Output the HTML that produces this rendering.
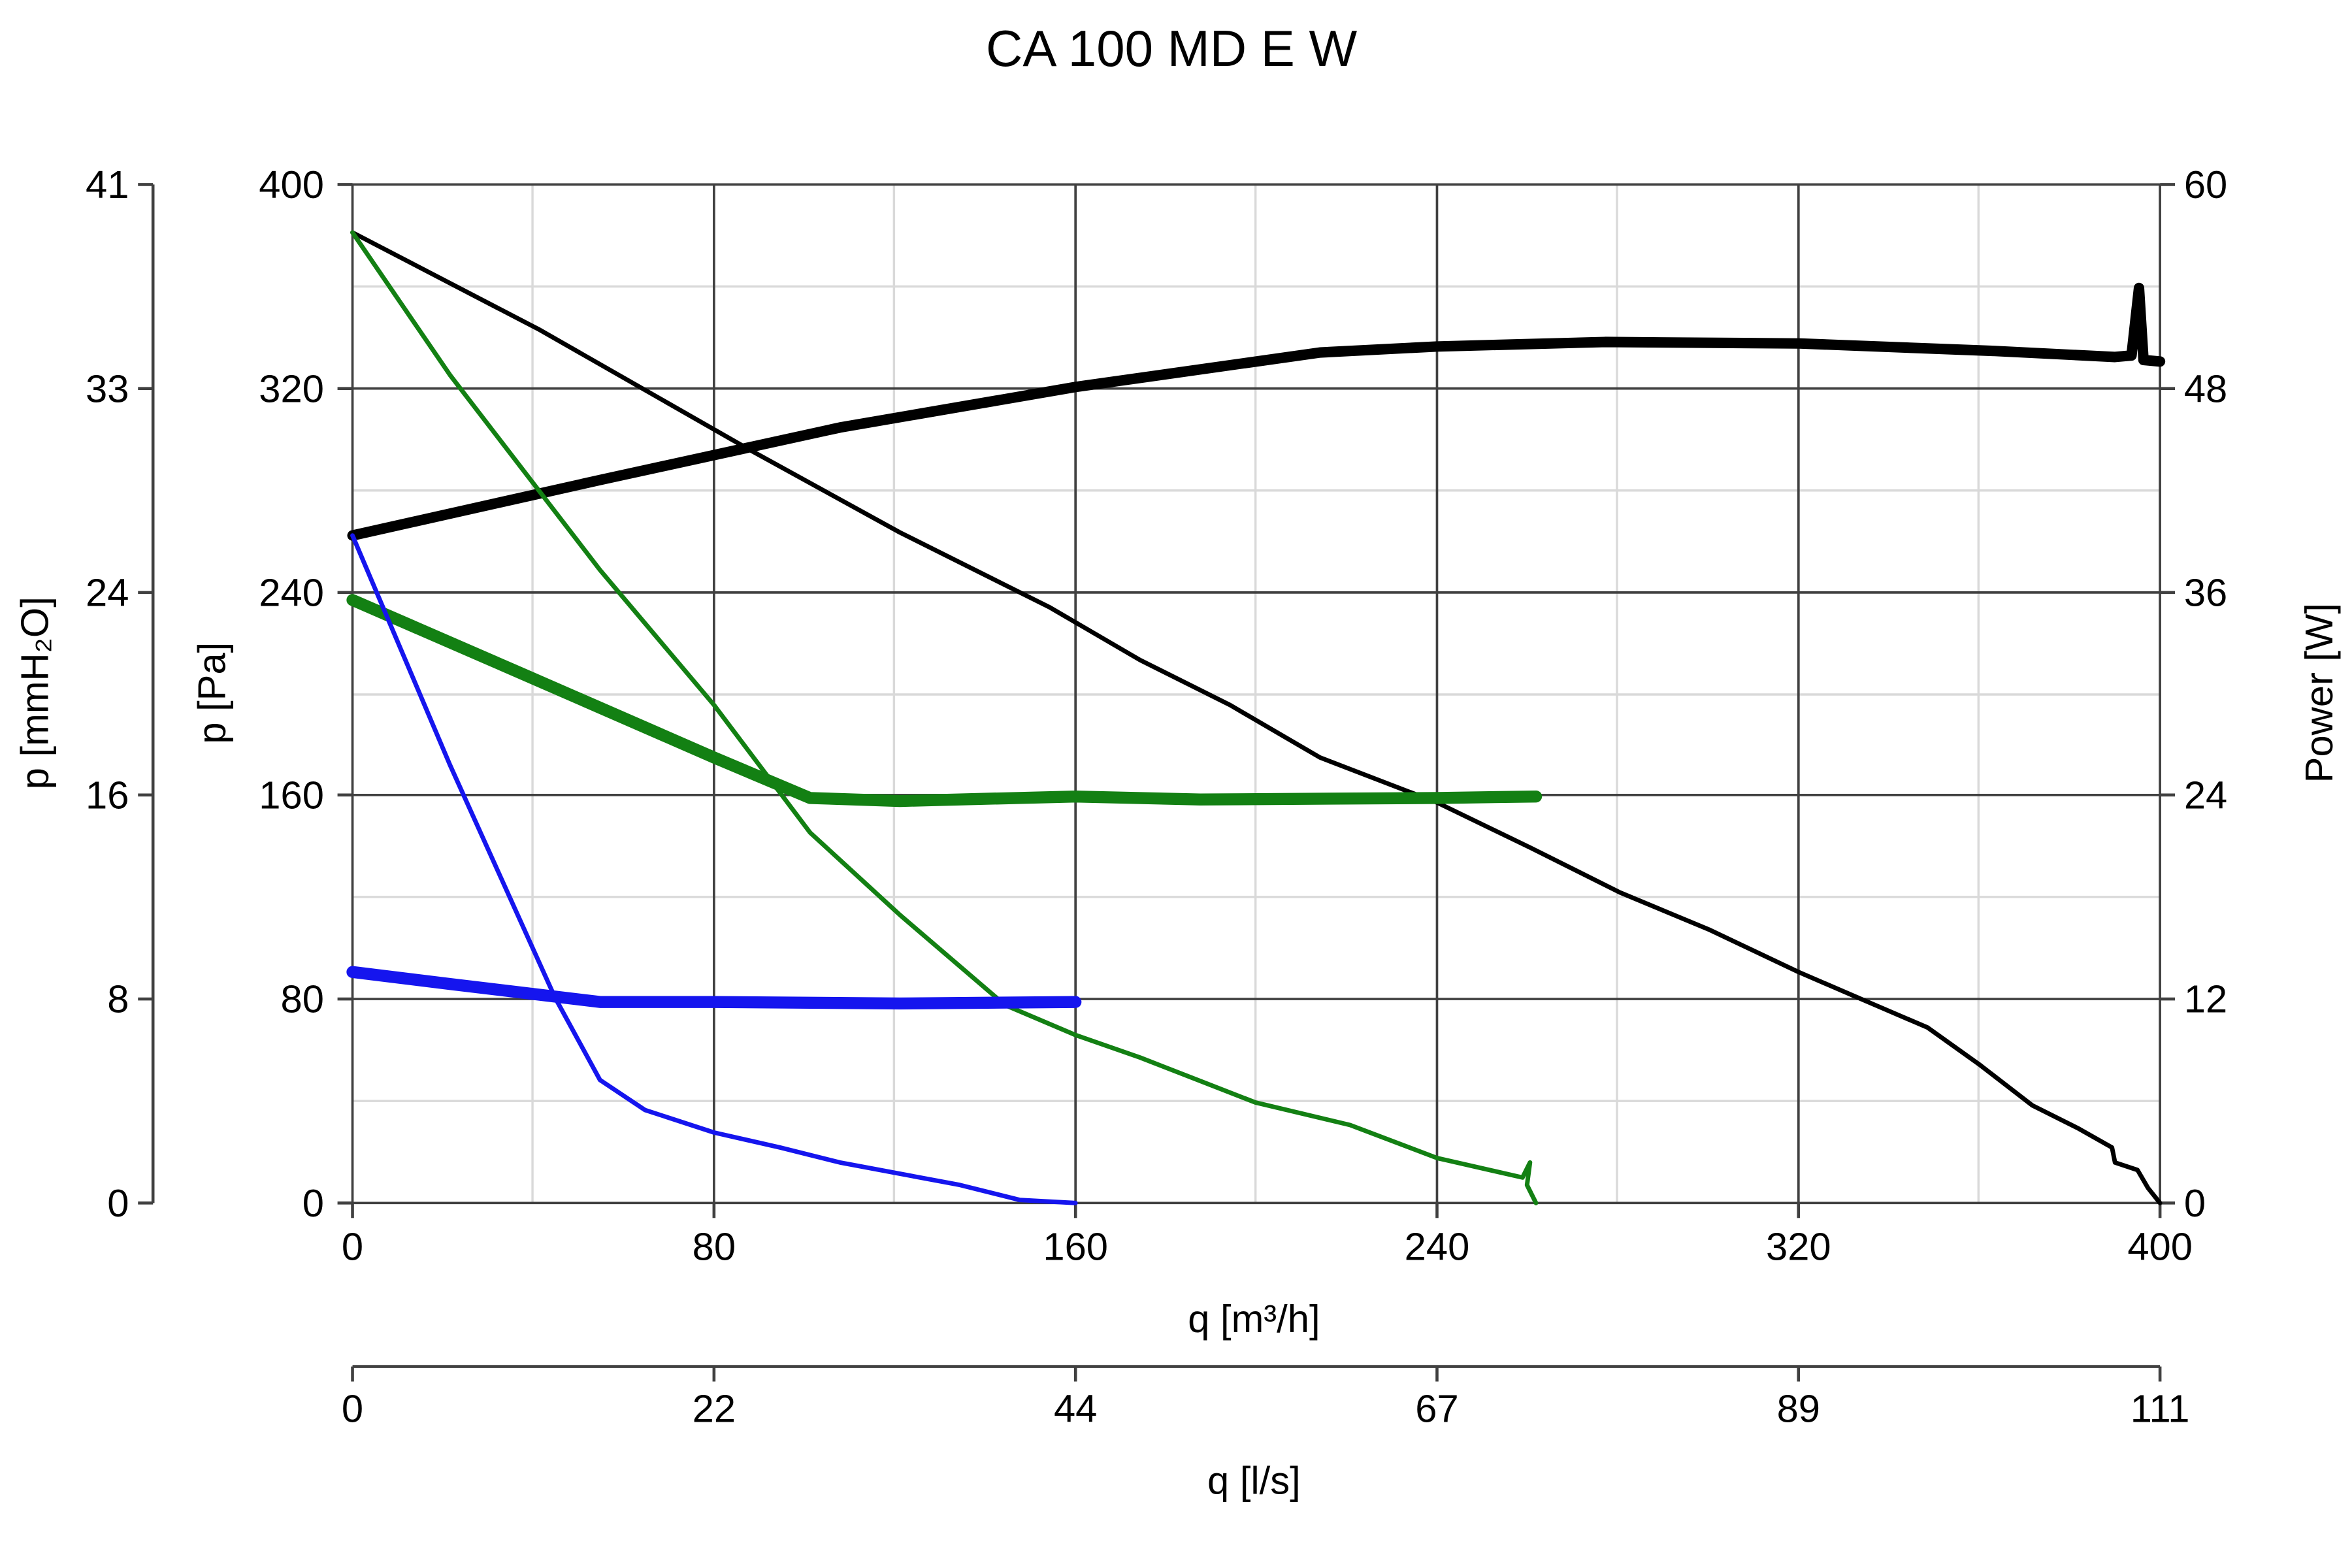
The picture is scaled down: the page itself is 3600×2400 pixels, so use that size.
<!DOCTYPE html>
<html><head><meta charset="utf-8"><style>
html,body{margin:0;padding:0;background:#fff;}
svg{display:block;}
text{font-family:"Liberation Sans",Arial,sans-serif;fill:#000;}
</style></head><body>
<svg width="3600" height="2400" viewBox="0 0 1568 1045.33" preserveAspectRatio="none" xmlns="http://www.w3.org/2000/svg">
<rect width="1568" height="1046" fill="#fff"/>
<!-- minor grid -->
<g stroke="#d9d9d9" stroke-width="1.5">
<line x1="355" y1="123" x2="355" y2="802"/><line x1="596" y1="123" x2="596" y2="802"/><line x1="837" y1="123" x2="837" y2="802"/><line x1="1078" y1="123" x2="1078" y2="802"/><line x1="1319" y1="123" x2="1319" y2="802"/>
<line x1="235" y1="191" x2="1440" y2="191"/><line x1="235" y1="327" x2="1440" y2="327"/><line x1="235" y1="463" x2="1440" y2="463"/><line x1="235" y1="598" x2="1440" y2="598"/><line x1="235" y1="734" x2="1440" y2="734"/>
</g>
<!-- major grid -->
<g stroke="#404040" stroke-width="1.6">
<line x1="476" y1="123" x2="476" y2="802"/><line x1="717" y1="123" x2="717" y2="802"/><line x1="958" y1="123" x2="958" y2="802"/><line x1="1199" y1="123" x2="1199" y2="802"/>
<line x1="235" y1="123" x2="1440" y2="123"/><line x1="235" y1="259" x2="1440" y2="259"/><line x1="235" y1="395" x2="1440" y2="395"/><line x1="235" y1="530" x2="1440" y2="530"/><line x1="235" y1="666" x2="1440" y2="666"/>
<line x1="235" y1="123" x2="235" y2="802"/><line x1="1440" y1="123" x2="1440" y2="802"/><line x1="235" y1="802" x2="1440" y2="802"/>
</g>
<!-- axis ticks -->
<g stroke="#404040" stroke-width="2">
<line x1="225" y1="123" x2="235" y2="123"/><line x1="225" y1="259" x2="235" y2="259"/><line x1="225" y1="395" x2="235" y2="395"/><line x1="225" y1="530" x2="235" y2="530"/><line x1="225" y1="666" x2="235" y2="666"/><line x1="225" y1="802" x2="235" y2="802"/>
<line x1="1440" y1="123" x2="1450" y2="123"/><line x1="1440" y1="259" x2="1450" y2="259"/><line x1="1440" y1="395" x2="1450" y2="395"/><line x1="1440" y1="530" x2="1450" y2="530"/><line x1="1440" y1="666" x2="1450" y2="666"/><line x1="1440" y1="802" x2="1450" y2="802"/>
<line x1="235" y1="802" x2="235" y2="812"/><line x1="476" y1="802" x2="476" y2="812"/><line x1="717" y1="802" x2="717" y2="812"/><line x1="958" y1="802" x2="958" y2="812"/><line x1="1199" y1="802" x2="1199" y2="812"/><line x1="1440" y1="802" x2="1440" y2="812"/>
<!-- left mm axis -->
<line x1="102" y1="123" x2="102" y2="802"/>
<line x1="92" y1="123" x2="102" y2="123"/><line x1="92" y1="259" x2="102" y2="259"/><line x1="92" y1="395" x2="102" y2="395"/><line x1="92" y1="530" x2="102" y2="530"/><line x1="92" y1="666" x2="102" y2="666"/><line x1="92" y1="802" x2="102" y2="802"/>
<!-- bottom l/s axis -->
<line x1="235" y1="911" x2="1440" y2="911"/>
<line x1="235" y1="911" x2="235" y2="921"/><line x1="476" y1="911" x2="476" y2="921"/><line x1="717" y1="911" x2="717" y2="921"/><line x1="958" y1="911" x2="958" y2="921"/><line x1="1199" y1="911" x2="1199" y2="921"/><line x1="1440" y1="911" x2="1440" y2="921"/>
</g>
<!-- curves -->
<g fill="none" stroke-linejoin="round" stroke-linecap="round">
<polyline stroke="#000" stroke-width="3" points="235,155 360,220 500,300 600,355 700,405 760,440 820,470 880,505 958,535 1020,565 1080,595 1140,620 1199,648 1250,670 1285,685 1320,710 1355,737 1385,752 1408,765 1410,775 1425,780 1432,792 1440,802"/>
<polyline stroke="#000" stroke-width="7" points="235,357 400,320 560,285 717,258 880,235 958,231 1070,228 1200,229 1330,234 1410,238 1421,237 1426,192 1429,240 1440,241"/>
<polyline stroke="#138013" stroke-width="3" points="235,155 300,250 400,380 476,470 540,555 600,610 670,670 717,690 760,705 837,735 900,750 958,772 1015,785 1020,775 1018,790 1024,802"/>
<polyline stroke="#138013" stroke-width="8" points="235,400 350,450 476,505 540,532 600,534 717,531 800,533 958,532 1024,531"/>
<polyline stroke="#1515ee" stroke-width="3" points="235,357 300,510 370,665 400,720 430,740 476,755 520,765 560,775 640,790 680,800 717,802"/>
<polyline stroke="#1515ee" stroke-width="8" points="235,648 300,656 400,668 476,668 600,669 717,668"/>
</g>
<!-- text -->
<text x="781" y="44" font-size="34" text-anchor="middle">CA 100 MD E W</text>
<g font-size="26" text-anchor="end">
<text x="216" y="132">400</text><text x="216" y="268">320</text><text x="216" y="404">240</text><text x="216" y="539">160</text><text x="216" y="675">80</text><text x="216" y="811">0</text>
<text x="86" y="132">41</text><text x="86" y="268">33</text><text x="86" y="404">24</text><text x="86" y="539">16</text><text x="86" y="675">8</text><text x="86" y="811">0</text>
</g>
<g font-size="26" text-anchor="start">
<text x="1456" y="132">60</text><text x="1456" y="268">48</text><text x="1456" y="404">36</text><text x="1456" y="539">24</text><text x="1456" y="675">12</text><text x="1456" y="811">0</text>
</g>
<g font-size="26" text-anchor="middle">
<text x="235" y="840">0</text><text x="476" y="840">80</text><text x="717" y="840">160</text><text x="958" y="840">240</text><text x="1199" y="840">320</text><text x="1440" y="840">400</text>
<text x="836" y="888">q [m³/h]</text>
<text x="235" y="948">0</text><text x="476" y="948">22</text><text x="717" y="948">44</text><text x="958" y="948">67</text><text x="1199" y="948">89</text><text x="1440" y="948">111</text>
<text x="836" y="996">q [l/s]</text>
<text transform="translate(150,462) rotate(-90)">p [Pa]</text>
<text transform="translate(32,462) rotate(-90)">p [mmH₂O]</text>
<text transform="translate(1555,462) rotate(-90)">Power [W]</text>
</g>
</svg>
</body></html>
